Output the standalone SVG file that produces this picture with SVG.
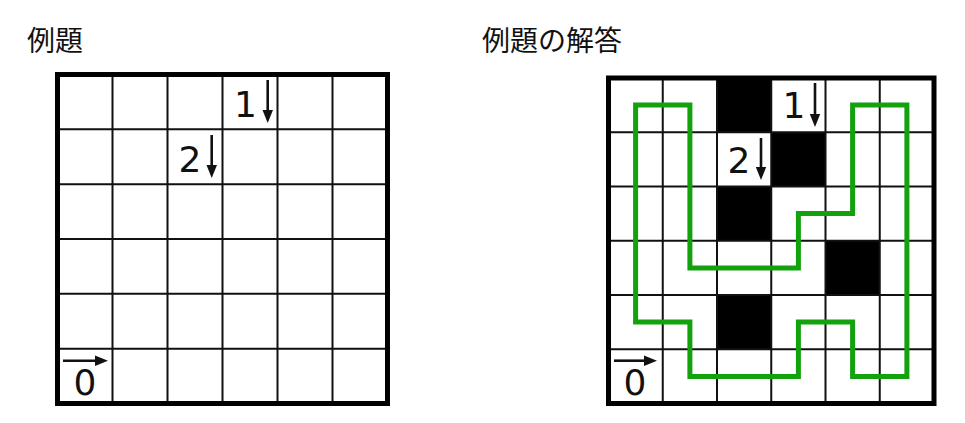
<svg xmlns="http://www.w3.org/2000/svg" width="965" height="423" viewBox="0 0 965 423">
<style>
.title{font-family:"Noto Sans CJK JP","Noto Sans",sans-serif;font-size:28px;fill:#111}
.num{font-family:"DejaVu Sans","Liberation Sans",sans-serif;font-size:36px;fill:#111;text-anchor:middle}
.thin{stroke:#111;stroke-width:2;fill:none}
.border{stroke:#000;stroke-width:5;fill:none}
.shaft{stroke:#111;stroke-width:2.6;fill:none}
.head{fill:#111}
.blk{fill:#000}
.loop{stroke:#13a10e;stroke-width:5;fill:none;stroke-linejoin:miter;stroke-linecap:square}
</style>
<rect width="965" height="423" fill="#fff"/>
<g id="titles">
<text class="title" x="27" y="51">例題</text>
<text class="title" x="482" y="51">例題の解答</text>
</g>
<g id="problem">
<rect x="57.5" y="74.5" width="330" height="329" fill="#fff"/>
<g class="thin">
<path d="M112.5,74.5V403.5M167.5,74.5V403.5M222.5,74.5V403.5M277.5,74.5V403.5M332.5,74.5V403.5"/>
<path d="M57.5,129.33H387.5M57.5,184.17H387.5M57.5,239H387.5M57.5,293.83H387.5M57.5,348.67H387.5"/>
</g>
<rect class="border" x="57.5" y="74.5" width="330" height="329"/>
<g id="p-clue1">
<text class="num" x="245.5" y="117">1</text>
<path class="shaft" d="M267.7,80V112"/>
<polygon class="head" points="262.5,110 273,110 267.7,123"/>
</g>
<g id="p-clue2">
<text class="num" x="190" y="172">2</text>
<path class="shaft" d="M211.7,135V167"/>
<polygon class="head" points="206.5,165 217,165 211.7,178"/>
</g>
<g id="p-clue0">
<text class="num" x="85" y="395">0</text>
<path class="shaft" d="M63,360.7H97"/>
<polygon class="head" points="95,355.5 95,366 108,360.7"/>
</g>
</g>
<g id="solution">
<rect x="608.5" y="78" width="325.5" height="325.5" fill="#fff"/>
<g id="shaded">
<rect class="blk" x="717" y="78" width="54.25" height="54.25"/>
<rect class="blk" x="771.25" y="132.25" width="54.25" height="54.25"/>
<rect class="blk" x="717" y="186.5" width="54.25" height="54.25"/>
<rect class="blk" x="825.5" y="240.75" width="54.25" height="54.25"/>
<rect class="blk" x="717" y="295" width="54.25" height="54.25"/>
</g>
<g class="thin">
<path d="M662.75,78V403.5M717,78V403.5M771.25,78V403.5M825.5,78V403.5M879.75,78V403.5"/>
<path d="M608.5,132.25H934M608.5,186.5H934M608.5,240.75H934M608.5,295H934M608.5,349.25H934"/>
</g>
<rect class="border" x="608.5" y="78" width="325.5" height="325.5"/>
<g id="s-clue1">
<text class="num" x="794" y="118">1</text>
<path class="shaft" d="M815,83V116"/>
<polygon class="head" points="809.8,114 820.2,114 815,127"/>
</g>
<g id="s-clue2">
<text class="num" x="739" y="173">2</text>
<path class="shaft" d="M761,138V169"/>
<polygon class="head" points="755.8,167 766.2,167 761,180"/>
</g>
<g id="s-clue0">
<text class="num" x="635" y="395">0</text>
<path class="shaft" d="M614,360.7H646"/>
<polygon class="head" points="644,355.5 644,366 657,360.7"/>
</g>
<g id="connectors">
<path class="loop" d="M635.6,105.1H689.9V267.9H798.4V213.6H852.6V105.1H906.9V376.4H852.6V322.1H798.4V376.4H689.9V322.1H635.6Z"/>
</g>
</g>
</svg>
